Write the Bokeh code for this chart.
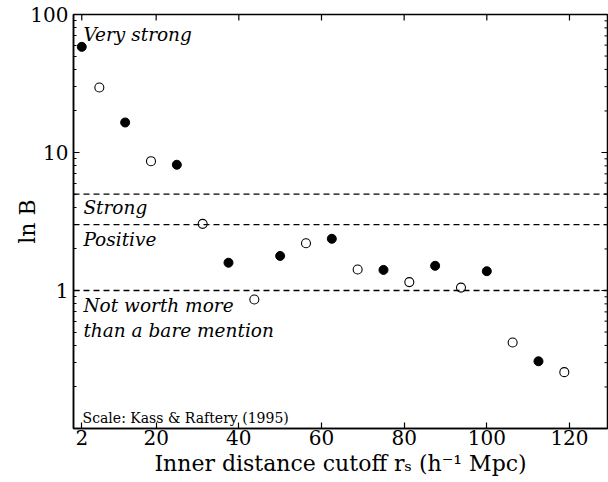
import math
from bokeh.plotting import figure
from bokeh.models import Range1d, FixedTicker, Span, Label
from bokeh.embed import file_html
from bokeh.resources import INLINE

# ---- data ----
r_filled = [2, 12.5, 25, 37.5, 50, 62.5, 75, 87.5, 100, 112.5]
lnB_filled = [58.3, 16.5, 8.15, 1.59, 1.78, 2.37, 1.41, 1.51, 1.38, 0.307]
r_open = [6.25, 18.75, 31.25, 43.75, 56.25, 68.75, 81.25, 93.75, 106.25, 118.75]
lnB_open = [29.6, 8.65, 3.04, 0.86, 2.20, 1.42, 1.15, 1.05, 0.42, 0.256]
thresholds = [5, 3, 1]
x_ticks = [2, 20, 40, 60, 80, 100, 120]
y_ticks = [1, 10, 100]
y_tick_labels = ["1", "10", "100"]
zone_texts = ["Very strong", "Strong", "Positive", "Not worth more", "than a bare mention"]
note_text = "Scale: Kass & Raftery (1995)"
x_title = "Inner distance cutoff rₛ (h⁻¹ Mpc)"
y_title = "ln B"

FONT = "DejaVu Serif"
X_MIN, X_MAX = 0, 129.2
Y_MIN, Y_MAX = 0.1, 100

p = figure(width=608, height=482, y_axis_type="log",
           x_range=Range1d(X_MIN, X_MAX), y_range=Range1d(Y_MIN, Y_MAX),
           output_backend="svg", toolbar_location=None,
           min_border_left=73, min_border_right=1, min_border_top=14, min_border_bottom=54)
p.xgrid.visible = False
p.ygrid.visible = False
p.outline_line_color = "black"
p.outline_line_width = 1.5
p.background_fill_color = "white"
p.border_fill_color = "white"

y_minor = [m * 10.0 ** e for e in (-1, 0, 1) for m in range(2, 10)]

def style_axis(ax):
    ax.axis_line_color = "black"
    ax.axis_line_width = 1.5
    ax.major_tick_in = 6
    ax.major_tick_out = 0
    ax.minor_tick_in = 3
    ax.minor_tick_out = 0
    ax.major_tick_line_width = 1.2
    ax.minor_tick_line_width = 1
    ax.major_tick_line_color = "black"
    ax.minor_tick_line_color = "black"
    ax.major_label_text_font = FONT
    ax.major_label_text_font_size = "20px"
    ax.major_label_text_color = "black"
    ax.axis_label_text_font = FONT
    ax.axis_label_text_font_size = "22px"
    ax.axis_label_text_font_style = "normal"
    ax.axis_label_text_color = "black"

xb = p.xaxis[0]
xb.ticker = FixedTicker(ticks=x_ticks, minor_ticks=[])
style_axis(xb)
xb.major_label_standoff = 1
xb.axis_label = x_title
xb.axis_label_standoff = 3

yl = p.yaxis[0]
yl.ticker = FixedTicker(ticks=y_ticks, minor_ticks=y_minor)
style_axis(yl)
yl.major_label_overrides = {t: s for t, s in zip(y_ticks, y_tick_labels)}
yl.major_label_standoff = 5
yl.axis_label = y_title
yl.axis_label_standoff = -13

# mirrored inward ticks on top and right edges
p.ray(x=x_ticks, y=[Y_MAX] * len(x_ticks), length=6, length_units="screen",
      angle=-math.pi / 2, line_color="black", line_width=1.2)
p.ray(x=[X_MAX] * len(y_ticks), y=y_ticks, length=6, length_units="screen",
      angle=math.pi, line_color="black", line_width=1.2)
p.ray(x=[X_MAX] * len(y_minor), y=y_minor, length=3, length_units="screen",
      angle=math.pi, line_color="black", line_width=1)

for t in thresholds:
    p.add_layout(Span(location=t, dimension="width", line_color="black",
                      line_width=1.3, line_dash="6 4"))

p.scatter(x=r_filled, y=lnB_filled, size=9, marker="circle",
          fill_color="black", line_color="black")
p.scatter(x=r_open, y=lnB_open, size=9, marker="circle",
          fill_color="white", line_color="black", line_width=1.1)

zone_y = [71.9, 3.98, 2.34, 0.782, 0.516]
for txt, yy in zip(zone_texts, zone_y):
    p.add_layout(Label(x=2.4, y=yy, text=txt, text_font=FONT, text_font_size="18.5px",
                       text_font_style="italic", text_color="black",
                       text_baseline="alphabetic", text_align="left"))
p.add_layout(Label(x=2.2, y=0.1185, text=note_text, text_font=FONT, text_font_size="14px",
                   text_color="black", text_baseline="alphabetic", text_align="left"))

open("out.html", "w").write(file_html(p, INLINE))
